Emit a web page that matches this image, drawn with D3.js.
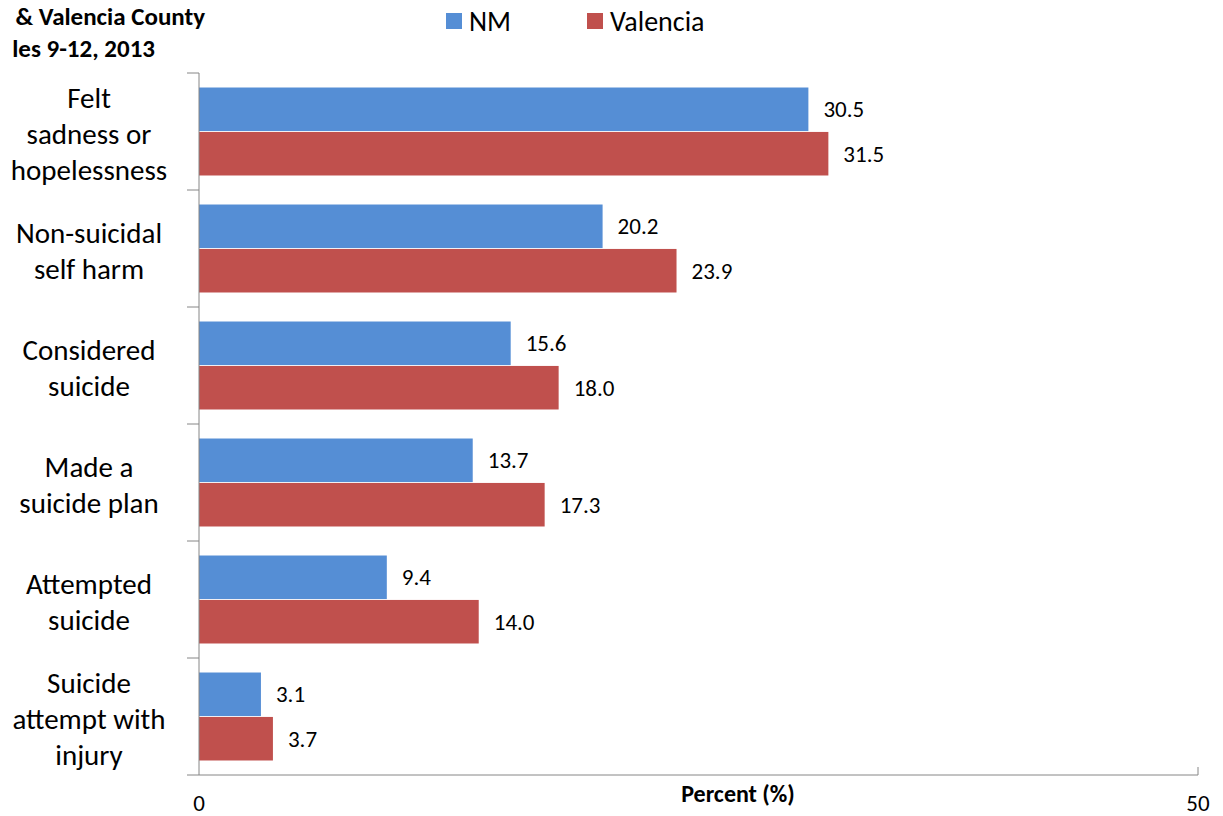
<!DOCTYPE html>
<html><head><meta charset="utf-8">
<script src="https://cdn.jsdelivr.net/npm/d3@7"></script>
<style>body{margin:0;background:#fff}svg{display:block}text{font-family:Carlito,Calibri,Lato,sans-serif}</style>
</head><body>
<svg id="c" width="1223" height="816"></svg>
<script>
const categories = [["Felt","sadness or","hopelessness"],["Non-suicidal","self harm"],["Considered","suicide"],["Made a","suicide plan"],["Attempted","suicide"],["Suicide","attempt with","injury"]];
const seriesNames = ["NM","Valencia"];
const nmValues = [30.5,20.2,15.6,13.7,9.4,3.1];
const valenciaValues = [31.5,23.9,18.0,17.3,14.0,3.7];
const xTicks = [0,50];
const colors = ["#558ED5","#C0504D"];

(function(){
const svg = d3.select("#c");
const pLeft=199,pRight=1198,pTop=73,pBottom=775;
const x = d3.scaleLinear().domain([0,50]).range([pLeft,pRight]);
const idx = d3.range(categories.length);
const y = d3.scaleBand().domain(idx).range([pTop,pBottom]).paddingInner(0.248).paddingOuter(0.124);
const sub = d3.scaleBand().domain([0,1]).range([0,y.bandwidth()]).paddingInner(0.02);
const axisColor="#868686";

const series=[nmValues,valenciaValues];
series.forEach((vals,s)=>{
  svg.append("g").selectAll("rect").data(vals).join("rect")
    .attr("x",x(0)).attr("y",(d,i)=>y(i)+sub(s)).attr("width",d=>x(d)-x(0)).attr("height",sub.bandwidth())
    .attr("fill",colors[s]);
  svg.append("g").selectAll("text").data(vals).join("text")
    .attr("x",d=>x(d)+15).attr("y",(d,i)=>y(i)+sub(s)+sub.bandwidth()/2).attr("dy","0.35em")
    .attr("font-size",23).attr("fill","#000").text(d=>d.toFixed(1));
});

svg.append("line").attr("x1",pLeft).attr("x2",pLeft).attr("y1",pTop).attr("y2",pBottom).attr("stroke",axisColor);
const step = (pBottom-pTop)/categories.length;
d3.range(categories.length+1).forEach(i=>{
  svg.append("line").attr("x1",pLeft-12).attr("x2",pLeft).attr("y1",pTop+i*step).attr("y2",pTop+i*step).attr("stroke",axisColor);
});
svg.append("line").attr("x1",pLeft).attr("x2",pRight).attr("y1",pBottom).attr("y2",pBottom).attr("stroke",axisColor);
svg.append("line").attr("x1",pRight).attr("x2",pRight).attr("y1",pBottom-8).attr("y2",pBottom).attr("stroke",axisColor);
svg.append("g").selectAll("text").data(xTicks).join("text")
  .attr("x",d=>x(d)).attr("y",811).attr("text-anchor","middle").attr("font-size",23).text(d=>d);
svg.append("text").attr("x",738).attr("y",802).attr("text-anchor","middle").attr("font-size",24).attr("font-weight","bold").text("Percent (%)");

const lh=36;
categories.forEach((lines,i)=>{
  const cy = pTop+i*step+step/2+2;
  const t = svg.append("text").attr("text-anchor","middle").attr("font-size",29).attr("fill","#000");
  lines.forEach((l,j)=>{
    t.append("tspan").attr("x",89).attr("y",cy+(j-(lines.length-1)/2)*lh).attr("dy","0.35em").text(l);
  });
});

svg.append("text").attr("x",205).attr("y",25).attr("text-anchor","end").attr("font-size",25).attr("font-weight","bold").text("& Valencia County");
svg.append("text").attr("x",155).attr("y",57).attr("text-anchor","end").attr("font-size",25).attr("font-weight","bold").text("les 9-12, 2013");

const legX=[446,587];
seriesNames.forEach((n,s)=>{
  svg.append("rect").attr("x",legX[s]).attr("y",13).attr("width",16).attr("height",16).attr("fill",colors[s]);
  svg.append("text").attr("x",legX[s]+23).attr("y",21).attr("dy","0.35em").attr("font-size",28).text(n);
});
})();
</script>
</body></html>
